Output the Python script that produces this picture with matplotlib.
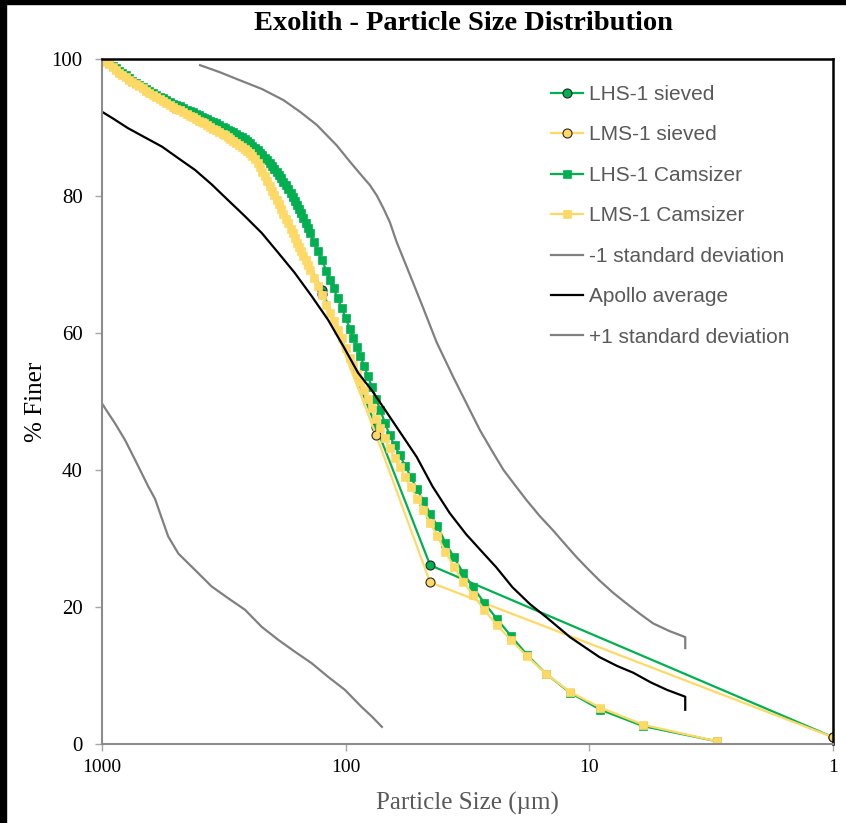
import matplotlib
matplotlib.use('Agg')
import matplotlib.pyplot as plt
from matplotlib.patches import Rectangle

# sieve data (um, % finer)
sieve_size = [1000, 500, 250, 125, 75, 45, 1]
lhs_sieved = [100, 93.2, 87.4, 66.3, 46.3, 26.1, 1.0]
lms_sieved = [100, 92.8, 86.8, 65.7, 45.1, 23.6, 1.0]

# Camsizer data (um, % finer)
cam_size = [980, 960, 935, 905, 880, 850, 825, 800, 775, 750, 728, 705, 682, 660, 640,
            620, 600, 580, 562, 545, 527, 510, 495, 480, 465, 450, 437, 425, 412, 400,
            390, 380, 370, 360, 350, 340, 330, 320, 312, 305, 297, 290, 282, 275, 267,
            260, 254, 248, 242, 236, 230, 225, 220, 215, 210, 205, 200, 196, 192, 188,
            184, 180, 176, 172, 168, 165, 161, 158, 155, 152, 149, 146, 143, 140,
            135, 130, 125, 120, 116, 112, 108, 104,
            100, 96, 93, 90, 87, 84, 81, 78, 75, 72, 69, 66, 63, 60, 57,
            54, 51, 48, 45, 42, 39, 36, 33, 30, 27, 24, 21, 18, 15, 12,
            9, 6, 3]
lhs_cam = [100.0, 99.7, 99.4, 99.0, 98.7, 98.3, 98.0, 97.6, 97.2, 96.8, 96.5, 96.2, 95.9, 95.6, 95.4,
           95.1, 94.8, 94.5, 94.25, 94.0, 93.75, 93.5, 93.3, 93.1, 92.85, 92.6, 92.4, 92.2, 92.0, 91.8,
           91.6, 91.4, 91.2, 91.0, 90.8, 90.6, 90.35, 90.1, 89.9, 89.7, 89.5, 89.3, 89.05, 88.8, 88.55,
           88.3, 88.0, 87.7, 87.35, 87.0, 86.65, 86.3, 85.95, 85.6, 85.2, 84.8, 84.4, 84.0, 83.55, 83.1,
           82.6, 82.1, 81.55, 81.0, 80.4, 79.9, 79.2, 78.7, 78.1, 77.5, 76.8, 76.0, 75.3, 74.6,
           73.3, 72.0, 70.6, 69.1, 67.8, 66.5, 65.1, 63.7,
           62.2, 60.6, 59.3, 58.0, 56.6, 55.2, 53.7, 52.1, 50.4, 48.7, 46.9, 45.1, 43.6, 42.2, 40.6,
           39.0, 37.2, 35.5, 33.6, 31.8, 29.4, 27.3, 25.0, 22.9, 20.6, 18.3, 15.8, 13.0, 10.2, 7.5,
           5.0, 2.6, 0.4]
lms_cam = [100.0, 99.6, 99.2, 98.8, 98.4, 98.0, 97.65, 97.3, 96.95, 96.6, 96.3, 96.0, 95.7, 95.4, 95.1,
           94.8, 94.5, 94.2, 93.9, 93.6, 93.3, 93.0, 92.75, 92.5, 92.25, 92.0, 91.75, 91.5, 91.25, 91.0,
           90.8, 90.6, 90.35, 90.1, 89.85, 89.6, 89.35, 89.1, 88.85, 88.6, 88.35, 88.1, 87.8, 87.5, 87.2,
           86.9, 86.6, 86.3, 85.85, 85.4, 84.8, 84.2, 83.55, 82.9, 82.2, 81.5, 80.7, 80.1, 79.45, 78.8,
           78.1, 77.4, 76.7, 76.0, 75.2, 74.6, 73.9, 73.2, 72.5, 71.9, 71.2, 70.6, 69.9, 69.2,
           68.0, 66.8, 65.5, 64.1, 62.9, 61.7, 60.5, 59.2,
           57.8, 56.4, 55.3, 54.0, 52.9, 51.7, 50.4, 49.0, 47.5, 46.1, 44.6, 43.2, 41.8, 40.4, 39.0,
           37.5, 35.8, 34.2, 32.3, 30.3, 28.1, 25.9, 23.7, 21.8, 19.6, 17.4, 15.2, 12.8, 10.2, 7.6,
           5.3, 2.8, 0.4]

# Apollo reference curves
minus_size = [1000, 884, 805, 732, 646, 606, 569, 535, 486, 415, 355, 304, 259, 221, 189,
              162, 138, 118, 100.7, 86, 78, 71]
minus_sd = [49.7, 46.8, 44.4, 41.5, 37.6, 35.8, 33.0, 30.3, 27.8, 25.4, 23.0, 21.3, 19.6, 17.1, 15.2,
            13.5, 11.8, 9.8, 7.9, 5.4, 4.0, 2.5]

apollo_size = [1000, 900, 782, 670, 567, 490, 415, 355, 304, 260, 221, 190, 162, 138,
               118, 102, 89, 78, 70.2, 60, 51.1, 44, 37.4, 32, 27.3, 24.1, 20.7, 17.5,
               15.0, 12.0, 10.5, 9.1, 7.7, 6.6, 5.6, 4.8, 4.04, 4.04]
apollo_avg = [92.3, 91.3, 89.9, 88.6, 87.2, 85.6, 83.8, 81.7, 79.4, 77.1, 74.6, 71.8, 68.8, 65.4,
              61.9, 58.0, 54.2, 51.6, 49.2, 45.6, 41.9, 37.6, 33.7, 30.6, 27.9, 25.8, 22.9, 20.4,
              18.5, 15.6, 14.2, 12.7, 11.4, 10.4, 9.0, 7.9, 6.9, 5.0]

plus_size = [396, 330, 272, 220, 180, 154, 131.6, 108.9, 96, 87.5, 79.6, 74.6, 70.0, 65.9,
             61.8, 54.5, 48, 42.4, 36.1, 31.8, 28.1, 25, 22.5, 20, 18.1, 16, 14.1, 12.6,
             11.3, 10.1, 9.1, 8, 7.03, 6.2, 5.47, 4.7, 4.04, 4.04]
plus_sd = [99.1, 98.1, 96.9, 95.6, 94.0, 92.3, 90.4, 87.4, 85.0, 83.3, 81.6, 80.1, 78.2, 76.2,
           73.3, 68.5, 63.6, 58.7, 53.5, 49.6, 45.8, 42.7, 40.0, 37.6, 35.6, 33.3, 31.2, 29.2,
           27.3, 25.5, 23.9, 22.1, 20.5, 19.0, 17.6, 16.5, 15.6, 14.0]

green = '#00B050'
gold = '#FFD966'
grey = '#808080'

fig = plt.figure(figsize=(8.46, 8.23), dpi=100)
ax = fig.add_axes([102 / 846, 1 - 744 / 823, 731 / 846, 685 / 823])

ax.plot(sieve_size, lhs_sieved, color=green, lw=1.6, marker='o', ms=6.5,
        mfc=green, mec='#262626', mew=0.8, label='LHS-1 sieved')
ax.plot(sieve_size, lms_sieved, color=gold, lw=1.6, marker='o', ms=6.5,
        mfc=gold, mec='#262626', mew=0.8, label='LMS-1 sieved')
ax.plot(cam_size, lhs_cam, color=green, lw=1.6, marker='s', ms=6.0,
        mfc=green, mec=green, mew=0.5, label='LHS-1 Camsizer')
ax.plot(cam_size, lms_cam, color=gold, lw=1.6, marker='s', ms=6.0,
        mfc=gold, mec=gold, mew=0.5, label='LMS-1 Camsizer')
ax.plot(minus_size, minus_sd, color=grey, lw=1.6, label='-1 standard deviation')
ax.plot(apollo_size, apollo_avg, color='black', lw=1.6, label='Apollo average')
ax.plot(plus_size, plus_sd, color=grey, lw=1.6, label='+1 standard deviation')

ax.set_xscale('log')
ax.set_xlim(1000, 1)
ax.set_ylim(0, 100)
ax.set_xticks([1000, 100, 10, 1])
ax.set_xticklabels(['1000', '100', '10', '1'])
ax.xaxis.set_minor_locator(matplotlib.ticker.NullLocator())
ax.set_yticks([0, 20, 40, 60, 80, 100])

serif = 'Liberation Serif'
for lab in ax.get_xticklabels():
    lab.set_fontfamily(serif)
    lab.set_fontsize(14)
for lab in ax.get_yticklabels():
    lab.set_fontfamily(serif)
    lab.set_fontsize(15)
ax.tick_params(axis='both', colors='#A6A6A6', length=5, width=1, labelcolor='black')
ax.tick_params(axis='x', pad=6)
ax.tick_params(axis='y', pad=9)

ax.spines['left'].set_color('#8C8C8C')
ax.spines['bottom'].set_color('#8C8C8C')
ax.spines['left'].set_linewidth(1.5)
ax.spines['bottom'].set_linewidth(1.5)
ax.spines['top'].set_linewidth(1.8)
ax.spines['right'].set_linewidth(1.8)

ax.set_xlabel('Particle Size (\u00b5m)', fontfamily=serif, fontsize=18, color='#595959', labelpad=11)
ax.set_ylabel('% Finer', fontfamily=serif, fontsize=18, color='black', labelpad=3)
fig.text(463 / 846, 1 - 23 / 823, 'Exolith - Particle Size Distribution', ha='center', va='center',
         fontfamily=serif, fontweight='bold', fontsize=20.5)

leg = ax.legend(loc='upper left', bbox_to_anchor=(0.614, 0.962), frameon=False,
                prop={'family': 'Liberation Sans', 'size': 15}, handlelength=1.55,
                handletextpad=0.3, labelspacing=1.03, borderpad=0, borderaxespad=0)
for t in leg.get_texts():
    t.set_color('#595959')

# black screenshot border on top and left
fig.patches.append(Rectangle((0, 1 - 4 / 823), 1, 4 / 823, transform=fig.transFigure,
                             color='black', zorder=10))
fig.patches.append(Rectangle((0, 0), 6 / 846, 1, transform=fig.transFigure,
                             color='black', zorder=10))

fig.savefig('out.png', dpi=100)
